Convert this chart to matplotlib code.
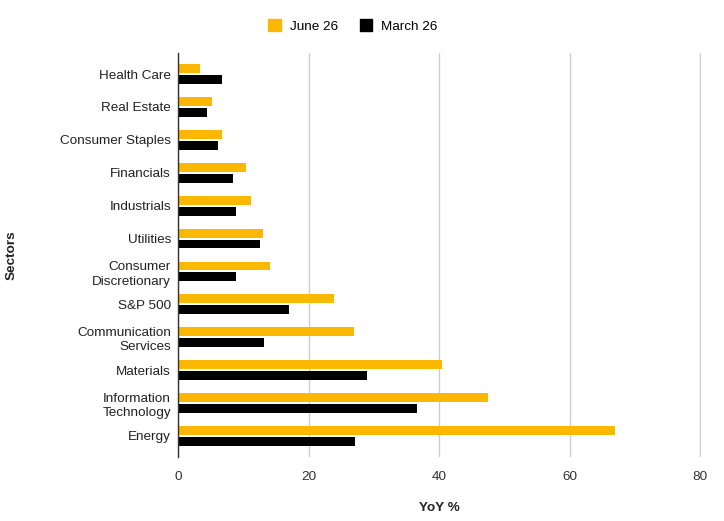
import matplotlib
matplotlib.use('Agg')
import matplotlib.pyplot as plt
import numpy as np
from matplotlib.patches import Patch

plt.rcParams['font.family'] = ['Liberation Sans', 'DejaVu Sans']

sectors = ['Health Care', 'Real Estate', 'Consumer Staples', 'Financials', 'Industrials',
           'Utilities', 'Consumer\nDiscretionary', 'S&P 500', 'Communication\nServices',
           'Materials', 'Information\nTechnology', 'Energy']
june_26 = [3.3, 5.2, 6.7, 10.4, 11.2, 13.1, 14.1, 23.9, 26.9, 40.5, 47.5, 67.0]
march_26 = [6.7, 4.5, 6.2, 8.5, 8.9, 12.6, 8.9, 17.0, 13.2, 28.9, 36.6, 27.1]
x_ticks = [0, 20, 40, 60, 80]

YELLOW = '#FBB800'
BLACK = '#000000'

fig = plt.figure(figsize=(7.24, 5.21), dpi=100)
ax = fig.add_axes([178/724, 1-457/521, 523/724, (457-52.7)/521])

y = np.arange(len(sectors))
h = 0.27
ax.barh(y - 0.165, june_26, height=h, color=YELLOW, zorder=3)
ax.barh(y + 0.165, march_26, height=h, color=BLACK, zorder=3)

ax.set_ylim(11.64, -0.65)
ax.set_xlim(0, 80.15)
ax.set_xticks(x_ticks)
ax.set_yticks(y)
ax.set_yticklabels(sectors, multialignment='right', linespacing=1.3)
ax.tick_params(axis='y', length=0, pad=5, labelsize=9.7, labelcolor='#222222')
ax.tick_params(axis='x', length=0, pad=10, labelsize=9.7, labelcolor='#333333')

ax.grid(axis='x', color='#cccccc', linewidth=1, zorder=0)
for s in ['top', 'right', 'bottom']:
    ax.spines[s].set_visible(False)
ax.spines['left'].set_color('#333333')
ax.spines['left'].set_linewidth(1)
ax.spines['left'].set_zorder(4)

fig.text(439/724, 1-508/521, 'YoY %', ha='center', va='center',
         fontsize=9.7, fontweight='bold', color='#222222')
fig.text(12/724, 1-255/521, 'Sectors', ha='center', va='center', rotation=90,
         fontsize=9.7, fontweight='bold', color='#222222')

handles = [Patch(color=YELLOW, label='June 26'), Patch(color=BLACK, label='March 26')]
fig.legend(handles=handles, loc='center', bbox_to_anchor=(353/724, 1-26/521), ncol=2,
           frameon=False, fontsize=9.7, handlelength=0.9, handleheight=0.9,
           handletextpad=0.7, columnspacing=1.6)

fig.savefig('out.png', dpi=100)
